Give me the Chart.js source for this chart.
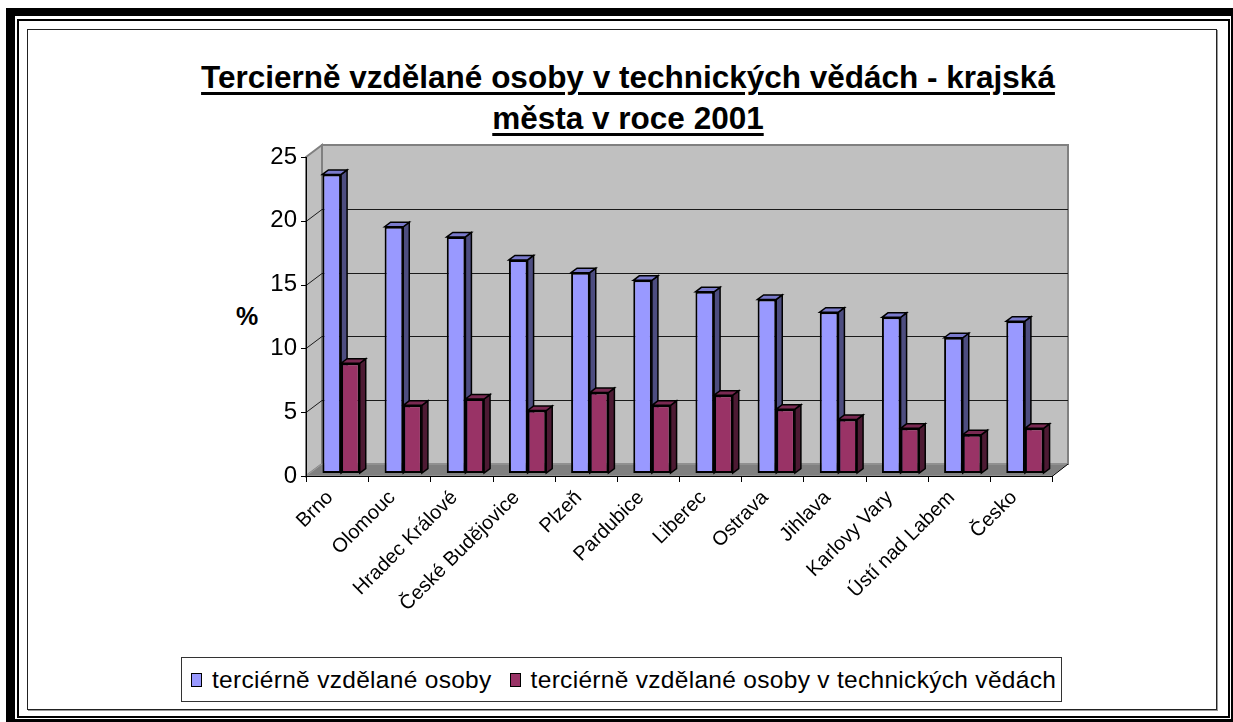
<!DOCTYPE html>
<html>
<head>
<meta charset="utf-8">
<title>Terciérně vzdělané osoby v technických vědách</title>
<script src="https://cdn.jsdelivr.net/npm/chart.js"></script>
<style>
    body {
        margin: 0;
        width: 1233px;
        height: 722px;
        overflow: hidden;
        background: #fff;
        position: relative;
        font-family: 'Liberation Sans', Arial, sans-serif;
    }

    .frame-thick {
        position: absolute;
        left: 6px; top: 8px;
        width: 1234px; height: 720px;
        box-sizing: border-box;
        border: 9px solid #000;
        border-top-width: 8px;
    }

    .frame-thin {
        position: absolute;
        left: 17px; top: 19px;
        width: 1213px; height: 699px;
        box-sizing: border-box;
        border: 2px solid #000;
    }

    .chart-box {
        position: absolute;
        left: 27px; top: 29px;
        width: 1190px; height: 681px;
        box-sizing: border-box;
        border: 1px solid #222;
        box-shadow: 1px 1px 0 #999;
    }

    .title {
        position: absolute;
        left: 28px; top: 57px;
        width: 1200px;
        text-align: center;
        font-weight: bold;
        font-size: 31.5px;
        line-height: 41px;
        text-decoration: underline;
        text-decoration-thickness: 3px;
        text-underline-offset: 4px;
    }

    .y-title {
        position: absolute;
        left: 236px; top: 302px;
        font-weight: bold;
        font-size: 25px;
    }

    .legend {
        position: absolute;
        left: 181px; top: 657px;
        width: 881px; height: 45px;
        box-sizing: border-box;
        border: 1px solid #333;
        display: flex;
        align-items: center;
        padding-left: 9px;
        font-size: 24.5px;
        letter-spacing: 0.3px;
        white-space: nowrap;
        overflow: hidden;
    }

        .legend span.box {
            display: inline-block;
            width: 9px; height: 12px;
            border: 1px solid #000;
            margin-right: 10px;
            flex-shrink: 0;
        }

        .legend .item {
            display: flex;
            align-items: center;
            flex-shrink: 0;
            margin-right: 18px;
        }

    canvas {
        position: absolute;
        left: 0; top: 0;
    }
</style>
</head>
<body>
    <div class="frame-thick"></div>
    <div class="frame-thin"></div>
    <div class="chart-box"></div>
    <div class="title">Tercierně vzdělané osoby v technických vědách - krajská<br>města v roce 2001</div>
    <div class="y-title">%</div>
    <div class="legend" id="legend"></div>
    <canvas id="chart" width="1233" height="722"></canvas>

<script>
    // data
    const cities = ['Brno', 'Olomouc', 'Hradec Králové', 'České Budějovice', 'Plzeň', 'Pardubice',
        'Liberec', 'Ostrava', 'Jihlava', 'Karlovy Vary', 'Ústí nad Labem', 'Česko'];
    const allTertiary = [23.4, 19.3, 18.5, 16.7, 15.7, 15.1, 14.2, 13.6, 12.6, 12.2, 10.6, 11.9];
    const techTertiary = [8.6, 5.3, 5.8, 4.9, 6.3, 5.3, 6.1, 5.0, 4.2, 3.5, 3.0, 3.5];
    const seriesLabels = ['terciérně vzdělané osoby', 'terciérně vzdělané osoby v technických vědách'];
    const yMin = 0, yMax = 25, yStep = 5;

    const colors = [
        { front: '#9999FF', side: '#4D4D80', top: '#7A7ACC' },
        { front: '#993366', side: '#4D1A33', top: '#7A2952' }
    ];

    // 3D look of the old Excel chart
    const wallDepth = { x: 16, y: 12 };
    const barDepth = { x: 6, y: 4.5 };
    const barShift = { x: 4, y: 3 };

    function poly(ctx, pts, fill, stroke, lw) {
        ctx.beginPath();
        ctx.moveTo(pts[0][0], pts[0][1]);
        for (let i = 1; i < pts.length; i++) ctx.lineTo(pts[i][0], pts[i][1]);
        ctx.closePath();
        if (fill) { ctx.fillStyle = fill; ctx.fill(); }
        if (stroke) { ctx.strokeStyle = stroke; ctx.lineWidth = lw || 1; ctx.stroke(); }
    }

    const excel3d = {
        id: 'excel3d',
        beforeDatasetsDraw(chart) {
            const { ctx, chartArea: a, scales } = chart;
            const dx = wallDepth.x, dy = wallDepth.y;
            ctx.save();

            // walls + floor
            poly(ctx, [[a.left, a.top], [a.left + dx, a.top - dy], [a.left + dx, a.bottom - dy], [a.left, a.bottom]], '#C0C0C0', '#808080', 2);
            poly(ctx, [[a.left + dx, a.top - dy], [a.right + dx, a.top - dy], [a.right + dx, a.bottom - dy], [a.left + dx, a.bottom - dy]], '#C0C0C0', '#808080', 2);
            poly(ctx, [[a.left, a.bottom], [a.left + dx, a.bottom - dy], [a.right + dx, a.bottom - dy], [a.right, a.bottom]], '#808080', '#A0A0A0', 1);

            // gridlines
            ctx.strokeStyle = '#1a1a1a';
            ctx.lineWidth = 1;
            for (let v = yMin + yStep; v < yMax; v += yStep) {
                const py = Math.round(scales.y.getPixelForValue(v)) + 0.5;
                ctx.beginPath();
                ctx.moveTo(a.left, py);
                ctx.lineTo(a.left + dx, py - dy);
                ctx.lineTo(a.right + dx, py - dy);
                ctx.stroke();
            }

            // axes and tick marks
            ctx.strokeStyle = '#000';
            ctx.lineWidth = 1;
            ctx.beginPath();
            ctx.moveTo(a.left + 0.5, a.top);
            ctx.lineTo(a.left + 0.5, a.bottom + 0.5);
            ctx.lineTo(a.right, a.bottom + 0.5);
            ctx.lineTo(a.right + dx, a.bottom - dy);
            for (let v = yMin; v <= yMax; v += yStep) {
                const py = Math.round(scales.y.getPixelForValue(v)) + 0.5;
                ctx.moveTo(a.left - 5, py);
                ctx.lineTo(a.left + 0.5, py);
            }
            const n = cities.length;
            for (let i = 0; i <= n; i++) {
                const px = Math.round(a.left + (a.right - a.left) * i / n) + 0.5;
                ctx.moveTo(px, a.bottom);
                ctx.lineTo(px, a.bottom + 6);
            }
            ctx.stroke();
            ctx.restore();

            // bar sides and tops, then Chart.js draws the fronts on top
            ctx.save();
            ctx.translate(barShift.x, -barShift.y);
            chart.data.datasets.forEach((ds, i) => {
                const c = colors[i];
                chart.getDatasetMeta(i).data.forEach(bar => {
                    const p = bar.getProps(['x', 'y', 'base', 'width'], true);
                    const l = p.x - p.width / 2, r = p.x + p.width / 2;
                    const bx = barDepth.x, by = barDepth.y;
                    poly(ctx, [[r, p.y], [r + bx, p.y - by], [r + bx, p.base - by], [r, p.base]], c.side, '#000', 1.5);
                    poly(ctx, [[l, p.y], [l + bx, p.y - by], [r + bx, p.y - by], [r, p.y]], c.top, '#000', 1.5);
                });
            });
        },
        afterDatasetsDraw(chart) {
            chart.ctx.restore();
        }
    };

    const chart = new Chart(document.getElementById('chart'), {
        type: 'bar',
        data: {
            labels: cities,
            datasets: [
                {
                    label: seriesLabels[0],
                    data: allTertiary,
                    backgroundColor: colors[0].front,
                    borderColor: '#000',
                    borderWidth: 2,
                    borderSkipped: false,
                    categoryPercentage: 0.6,
                    barPercentage: 1.0
                },
                {
                    label: seriesLabels[1],
                    data: techTertiary,
                    backgroundColor: colors[1].front,
                    borderColor: '#000',
                    borderWidth: 2,
                    borderSkipped: false,
                    categoryPercentage: 0.6,
                    barPercentage: 1.0
                }
            ]
        },
        options: {
            responsive: false,
            animation: false,
            layout: { padding: { left: 200, right: 181, top: 157, bottom: 96 } },
            plugins: {
                legend: { display: false },
                tooltip: { enabled: false }
            },
            scales: {
                x: {
                    grid: { display: false, drawTicks: false },
                    border: { display: false },
                    ticks: {
                        color: '#000',
                        font: { family: 'Liberation Sans', size: 20 },
                        minRotation: 45,
                        maxRotation: 45,
                        autoSkip: false,
                        padding: 10,
                        labelOffset: -7
                    },
                    afterFit(scale) { scale.height = 150; }
                },
                y: {
                    min: yMin,
                    max: yMax,
                    grid: { display: false, drawTicks: false },
                    border: { display: false },
                    ticks: {
                        stepSize: yStep,
                        color: '#000',
                        font: { family: 'Liberation Sans', size: 24 },
                        padding: 9
                    },
                    afterFit(scale) { scale.width = 106; }
                }
            }
        },
        plugins: [excel3d]
    });

    // legend as in the original (box with both series)
    const legend = document.getElementById('legend');
    seriesLabels.forEach((lbl, i) => {
        const item = document.createElement('div');
        item.className = 'item';
        item.innerHTML = '<span class="box" style="background:' + colors[i].front + '"></span>' + lbl;
        legend.appendChild(item);
    });
</script>
</body>
</html>
